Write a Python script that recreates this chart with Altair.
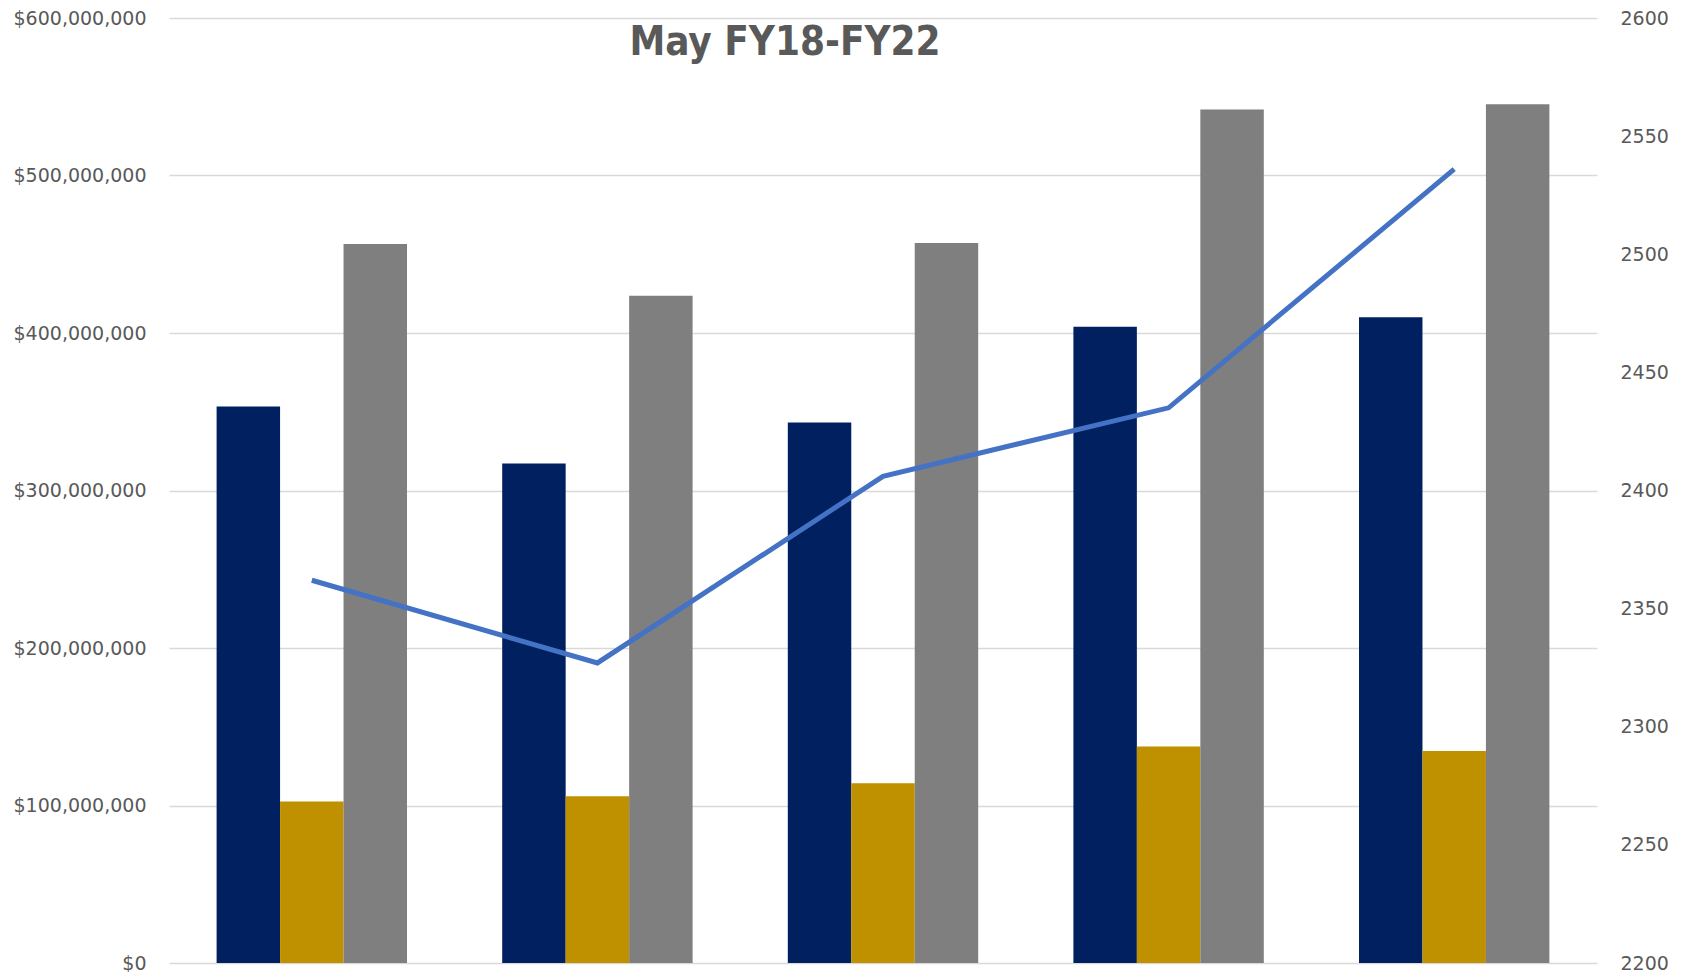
import altair as alt
import pandas as pd

years = ["2018", "2019", "2020", "2021", "2022"]
series_names = ["Series 1", "Series 2", "Series 3"]
series1 = [353.3e6, 317.1e6, 343.1e6, 403.9e6, 410.0e6]
series2 = [102.5e6, 105.9e6, 114.1e6, 137.4e6, 134.6e6]
series3 = [456.5e6, 423.7e6, 457.2e6, 541.9e6, 545.3e6]
counts = [2362, 2327, 2406, 2435, 2536]
colors = ["#002060", "#BF9000", "#7F7F7F"]
title_text = "May FY18-FY22"
left_ticks = [0, 100e6, 200e6, 300e6, 400e6, 500e6, 600e6]
right_ticks = [2200, 2250, 2300, 2350, 2400, 2450, 2500, 2550, 2600]

rows = []
for name, vals in zip(series_names, [series1, series2, series3]):
    for y, v in zip(years, vals):
        rows.append({"year": y, "series": name, "value": v})
bar_df = pd.DataFrame(rows)
line_df = pd.DataFrame({"year": years, "count": counts})

LABEL_FONT = "DejaVu Sans"
GRAY = "#595959"
GRID = "#d9d9d9"

x_scale = alt.Scale(domain=years, paddingInner=1 / 3, paddingOuter=1 / 6)

bars = alt.Chart(bar_df).mark_bar().encode(
    x=alt.X("year:N", scale=x_scale,
            axis=alt.Axis(title=None, labelFont=LABEL_FONT, labelFontSize=19,
                          labelColor=GRAY, labelAngle=0, domainColor=GRID,
                          domainWidth=3, tickColor=GRID, tickWidth=1.5,
                          tickBand="extent", tickSize=20, labelPadding=-8)),
    xOffset=alt.XOffset("series:N", sort=series_names,
                        scale=alt.Scale(domain=series_names, paddingInner=0, paddingOuter=0)),
    y=alt.Y("value:Q", scale=alt.Scale(domain=[0, 600e6], nice=False),
            axis=alt.Axis(title=None, values=left_ticks, format="$,.0f",
                          grid=True, gridColor=GRID, gridWidth=1.5,
                          domain=False, ticks=False, labelPadding=23,
                          labelFont=LABEL_FONT, labelFontSize=19,
                          labelColor=GRAY)),
    color=alt.Color("series:N", scale=alt.Scale(domain=series_names, range=colors),
                    legend=None),
)

line = alt.Chart(line_df).mark_line(color="#4472C4", strokeWidth=5).encode(
    x=alt.X("year:N", scale=x_scale, axis=None),
    y=alt.Y("count:Q", scale=alt.Scale(domain=[2200, 2600], nice=False),
            axis=alt.Axis(title=None, orient="right", values=right_ticks,
                          format="d", grid=False, domain=False, ticks=False,
                          labelPadding=23, labelFont=LABEL_FONT,
                          labelFontSize=19, labelColor=GRAY)),
)

title = alt.Chart(pd.DataFrame({"t": [title_text]})).mark_text(
    font="DejaVu Sans Condensed, DejaVu Sans, sans-serif",
    fontWeight="bold", fontSize=40, color=GRAY, align="center",
    baseline="alphabetic",
).encode(text="t:N", x=alt.value(616), y=alt.value(37))

chart = alt.layer(bars, line, title).resolve_scale(y="independent").properties(
    width=1428, height=945,
    autosize=alt.AutoSizeParams(type="none"),
    padding={"left": 161, "top": 10, "right": 78, "bottom": 9},
).configure_view(stroke=None)

chart.save("out.html", embed_options={"renderer": "svg", "actions": False})
